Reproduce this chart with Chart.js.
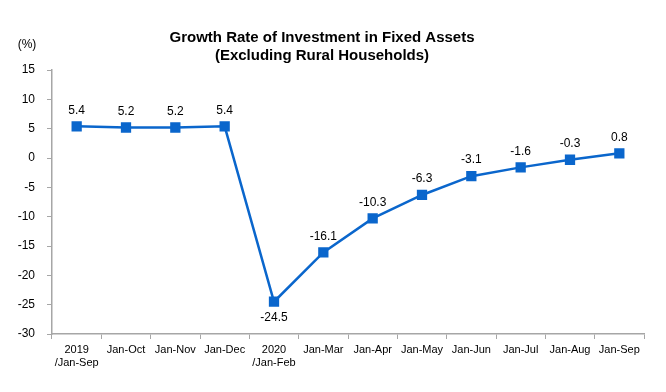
<!DOCTYPE html>
<html lang="en">
<head>
    <meta charset="UTF-8">
    <title>Growth Rate of Investment in Fixed Assets</title>
    <script src="https://cdn.jsdelivr.net/npm/chart.js"></script>
    <style>
        html, body { margin: 0; padding: 0; background: #fff; }
        #wrap { width: 666px; height: 392px; }
    </style>
</head>
<body>
    <div id="wrap"><canvas id="line_chart"></canvas></div>

    <script>
        const periods = [["2019", "/Jan-Sep"], "Jan-Oct", "Jan-Nov", "Jan-Dec", ["2020", "/Jan-Feb"],
            "Jan-Mar", "Jan-Apr", "Jan-May", "Jan-Jun", "Jan-Jul", "Jan-Aug", "Jan-Sep"];
        const growth = [5.4, 5.2, 5.2, 5.4, -24.5, -16.1, -10.3, -6.3, -3.1, -1.6, -0.3, 0.8];
        const yTicks = [15, 10, 5, 0, -5, -10, -15, -20, -25, -30];

        const font = "'Liberation Sans', Arial, sans-serif";

        // value labels above the points (below for the big drop)
        const valueLabels = {
            id: "valueLabels",
            afterDatasetsDraw(chart) {
                const ctx = chart.ctx;
                const meta = chart.getDatasetMeta(0);
                ctx.save();
                ctx.font = "12px " + font;
                ctx.fillStyle = "#000";
                ctx.textAlign = "center";
                ctx.textBaseline = "middle";
                meta.data.forEach((pt, i) => {
                    const v = growth[i];
                    const below = v === Math.min(...growth);
                    ctx.fillText(v.toFixed(1), pt.x, pt.y + (below ? 16 : -16));
                });
                // unit label
                ctx.fillText("(%)", 27, 45);
                ctx.restore();
            }
        };

        new Chart("line_chart", {
            type: "line",
            data: {
                labels: periods,
                datasets: [{
                    data: growth,
                    borderColor: "#0a66cc",
                    backgroundColor: "#0a66cc",
                    borderWidth: 2.5,
                    pointStyle: "rect",
                    pointRadius: 5.5,
                    pointHoverRadius: 5.5,
                    tension: 0
                }]
            },
            plugins: [valueLabels],
            options: {
                responsive: true,
                maintainAspectRatio: false,
                animation: false,
                layout: { padding: { left: 0, right: 22, top: 0, bottom: 0 } },
                plugins: {
                    legend: { display: false },
                    tooltip: { enabled: false },
                    title: {
                        display: true,
                        text: ["Growth Rate of Investment in Fixed Assets", "(Excluding Rural Households)"],
                        color: "#000",
                        font: { family: font, size: 15, weight: "bold", lineHeight: 1.2 },
                        padding: { top: 29, bottom: 5 }
                    }
                },
                scales: {
                    x: {
                        offset: true,
                        grid: {
                            offset: true,
                            drawOnChartArea: false,
                            color: "#a6a6a6",
                            tickLength: 5
                        },
                        border: { color: "#a6a6a6", width: 1.5 },
                        ticks: {
                            color: "#000",
                            font: { family: font, size: 11 },
                            padding: 4,
                            maxRotation: 0,
                            autoSkip: false
                        },
                        afterFit(scale) { scale.height = 58; }
                    },
                    y: {
                        min: -30,
                        max: 15,
                        afterBuildTicks(scale) {
                            scale.ticks = yTicks.map(v => ({ value: v }));
                        },
                        grid: {
                            drawOnChartArea: false,
                            color: "#a6a6a6",
                            tickLength: 5
                        },
                        border: { color: "#a6a6a6", width: 1.5 },
                        ticks: {
                            color: "#000",
                            font: { family: font, size: 12 },
                            padding: 12
                        },
                        afterFit(scale) { scale.width = 52; }
                    }
                }
            }
        });
    </script>
</body>
</html>
